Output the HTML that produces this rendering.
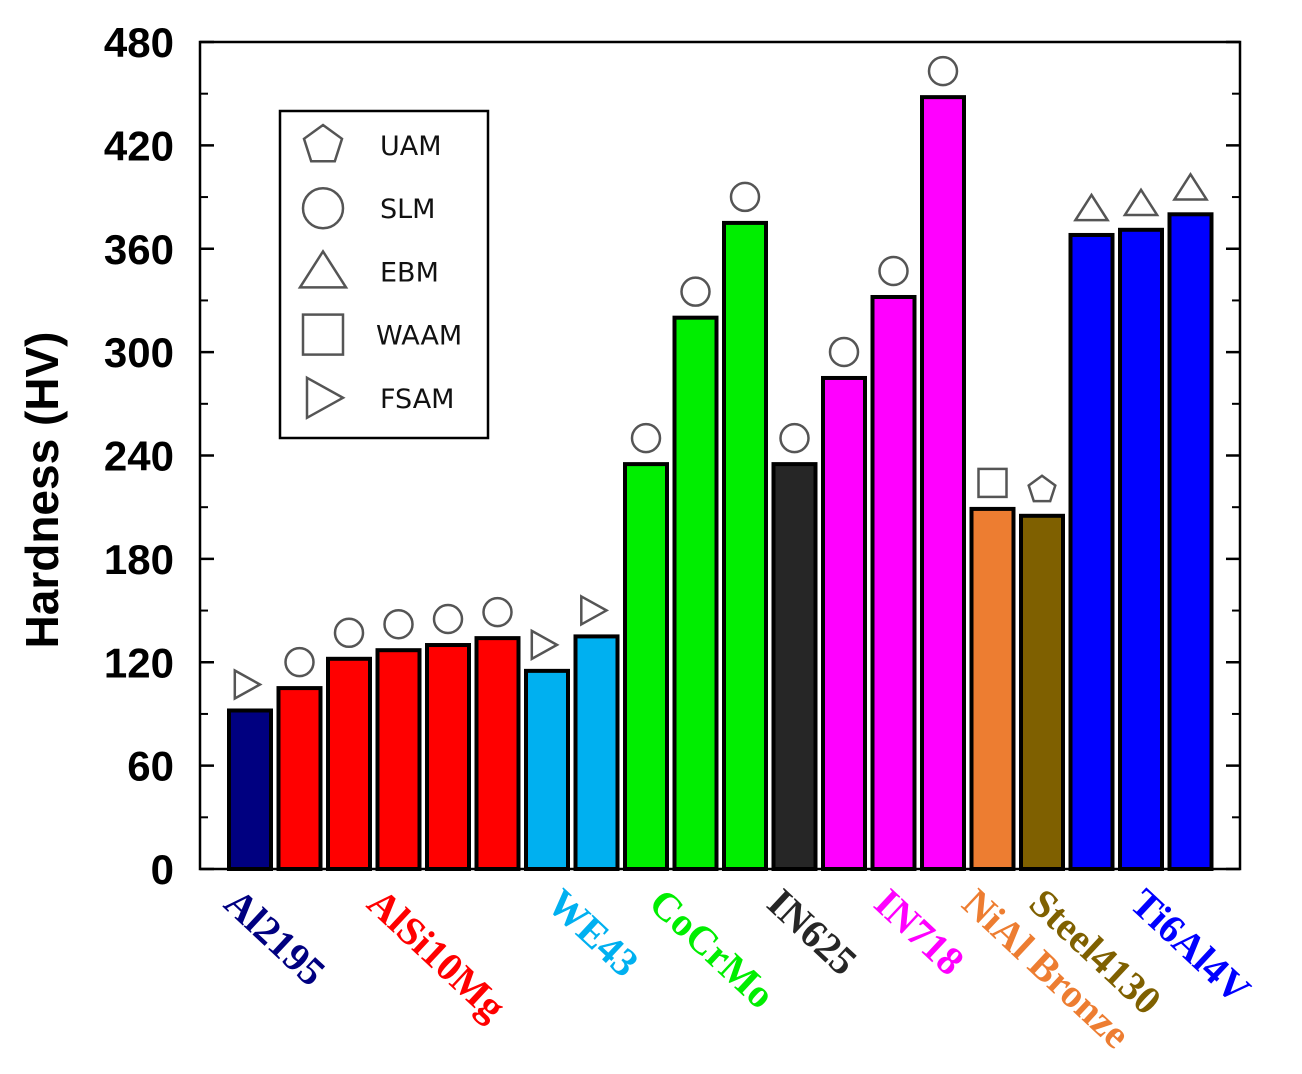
<!DOCTYPE html>
<html><head><meta charset="utf-8"><style>
body{margin:0;background:#fff;width:1302px;height:1074px;overflow:hidden}
svg{display:block}
</style></head><body>
<svg id="chart" width="1302" height="1074">
<g id="plot"></g>
</svg>
<script>
const categories=["Al2195","AlSi10Mg","AlSi10Mg","AlSi10Mg","AlSi10Mg","AlSi10Mg","WE43","WE43","CoCrMo","CoCrMo","CoCrMo","IN625","IN718","IN718","IN718","NiAl Bronze","Steel4130","Ti6Al4V","Ti6Al4V","Ti6Al4V"];
const hardness=[92,105,122,127,130,134,115,135,235,320,375,235,285,332,448,209,205,368,371,380];
const processes=["FSAM","SLM","SLM","SLM","SLM","SLM","FSAM","FSAM","SLM","SLM","SLM","SLM","SLM","SLM","SLM","WAAM","UAM","EBM","EBM","EBM"];
const yTicks=[0,60,120,180,240,300,360,420,480];
const groupLabels=["Al2195","AlSi10Mg","WE43","CoCrMo","IN625","IN718","NiAl Bronze","Steel4130","Ti6Al4V"];
const groupLabelX=[237,380,560,662,780,887,975,1042,1143];
const groupColors={"Al2195":"#000080","AlSi10Mg":"#ff0000","WE43":"#00b0f0","CoCrMo":"#00ee00","IN625":"#262626","IN718":"#ff00ff","NiAl Bronze":"#ed7d31","Steel4130":"#7f6000","Ti6Al4V":"#0000ff"};
const legendItems=["UAM","SLM","EBM","WAAM","FSAM"];

const NS="http://www.w3.org/2000/svg";
const X0=200,X1=1240,Y0=869,Y1=42;
const y=v=>Y0-(v/480)*(Y0-Y1);
const x=i=>250+i*49.5;
const svg=document.getElementById('plot');
function mk(t,a,p){const e=document.createElementNS(NS,t);for(const k in a)e.setAttribute(k,a[k]);(p||svg).appendChild(e);return e;}

function marker(type,cx,cy,s,parent){
  const st={fill:"none",stroke:"#555",'stroke-width':2.5};
  let e;
  if(type==="SLM"){e=mk('circle',Object.assign({cx:cx,cy:cy,r:s},st),parent);}
  else if(type==="EBM"){e=mk('polygon',Object.assign({points:`${cx},${cy-s} ${cx+s*1.15},${cy+s*0.8} ${cx-s*1.15},${cy+s*0.8}`},st),parent);}
  else if(type==="WAAM"){e=mk('rect',Object.assign({x:cx-s,y:cy-s,width:2*s,height:2*s},st),parent);}
  else if(type==="FSAM"){e=mk('polygon',Object.assign({points:`${cx-s*0.8},${cy-s} ${cx+s},${cy} ${cx-s*0.8},${cy+s}`},st),parent);}
  else {let pts=[];for(let k=0;k<5;k++){const a=-Math.PI/2+k*2*Math.PI/5;pts.push((cx+s*Math.cos(a)).toFixed(1)+","+(cy+s*Math.sin(a)).toFixed(1));}
    e=mk('polygon',Object.assign({points:pts.join(' ')},st),parent);}
  return e;
}

hardness.forEach((v,i)=>{
  const r=mk('rect',{x:x(i)-21,y:y(v),width:42,height:Y0-y(v),fill:groupColors[categories[i]],stroke:"#000",'stroke-width':4});
  
  
  const m=marker(processes[i],x(i)-(processes[i]==="FSAM"?4:0),y(v)-26,14);
  
  
});

const fr=mk('rect',{x:X0,y:Y1,width:X1-X0,height:Y0-Y1,fill:"none",stroke:"#000",'stroke-width':2.5});



yTicks.forEach(t=>{
  mk('line',{x1:X0,x2:X0+14,y1:y(t),y2:y(t),stroke:"#000",'stroke-width':2.5});
  mk('line',{x1:X1,x2:X1-14,y1:y(t),y2:y(t),stroke:"#000",'stroke-width':2.5});
  if(t<480){const ym=y(t+30);
    mk('line',{x1:X0,x2:X0+8,y1:ym,y2:ym,stroke:"#000",'stroke-width':2});
    mk('line',{x1:X1,x2:X1-8,y1:ym,y2:ym,stroke:"#000",'stroke-width':2});}
  const lb=mk('text',{x:X0-26,y:y(t)+15,'text-anchor':'end','font-family':'Liberation Sans, sans-serif','font-weight':'bold','font-size':42});
  lb.textContent=t;
  
  
});
const yt=mk('text',{x:0,y:0,transform:'translate(58,490) rotate(-90)','text-anchor':'middle','font-family':'Liberation Sans, sans-serif','font-weight':'bold','font-size':46});
yt.textContent="Hardness (HV)";



groupLabels.forEach((g,k)=>{
  const tx=groupLabelX[k], ty=890;
  const t=mk('text',{x:tx,y:ty,transform:`rotate(43 ${tx} ${ty})`,'font-family':'Liberation Serif, serif','font-weight':'bold','font-size':40,fill:groupColors[g],dy:22});
  t.textContent=g;
  
  
});

const lg=mk('g',{});


mk('rect',{x:280,y:111,width:208,height:327,fill:"#fff",stroke:"#000",'stroke-width':2.5},lg);
legendItems.forEach((p,k)=>{
  const cy=145+k*63.2;
  const m=marker(p,323,cy,20,lg);
  
  
  const t=mk('text',{x:p==="WAAM"?376:380,y:cy+10,'font-family':'DejaVu Sans, sans-serif','font-size':27,fill:'#111'},lg);
  t.textContent=p;
  
  
});
</script>
</body></html>
